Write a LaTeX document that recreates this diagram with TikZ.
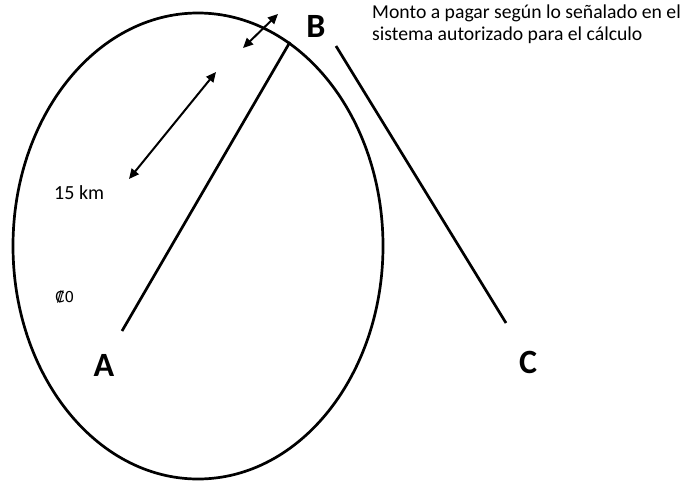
\documentclass[tikz,border=0pt]{standalone}
\usepackage{fontspec}
\setmainfont{Carlito}
\newfontfamily\colonfont{DejaVu Sans}
\usetikzlibrary{arrows.meta,positioning}

\begin{document}
\begin{tikzpicture}[
  x=1pt, y=-1pt,
  pt/.style={font=\fontsize{34}{40}\selectfont\bfseries, inner sep=0pt},
  lab/.style={font=\fontsize{20}{24}\selectfont, inner sep=0pt, anchor=west},
  note/.style={font=\fontsize{19.7}{22}\selectfont, inner sep=0pt, align=left, anchor=north west},
  road/.style={line width=2.7pt},
  dist/.style={{Triangle[length=10pt,width=9pt]}-{Triangle[length=10pt,width=9pt]}, line width=2pt}
]
\useasboundingbox (0,0) rectangle (692,482);
% zone round A
\draw[road] (198,246) ellipse [x radius=185pt, y radius=233pt];
% points
\node[pt] (A) at (104,365) {A};
\node[pt] (B) at (316,26) {B};
\node[pt] (C) at (528,362) {C};
% road ends
\coordinate (a1) at (122,331);
\coordinate (b1) at (290,42);
\coordinate (b2) at (336,46);
\coordinate (c1) at (506,323);
\draw[road] (a1) -- (b1);
\draw[road] (b2) -- (c1);
% distances
\coordinate (d1) at (243,48);
\coordinate (d2) at (278,14);
\coordinate (d3) at (129,179);
\coordinate (d4) at (216,72);
\draw[dist] (d1) -- (d2);
\draw[dist] (d3) -- (d4);
\node[lab] (km) at (54,193) {15 km};
\node[lab, font=\fontsize{15}{18}\selectfont\colonfont] (cost) at (55,297) {₡0};
% note on B
\node[note] (monto) at (372,5) {Monto a pagar según lo señalado en el\\sistema autorizado para el cálculo};
\end{tikzpicture}
\end{document}
